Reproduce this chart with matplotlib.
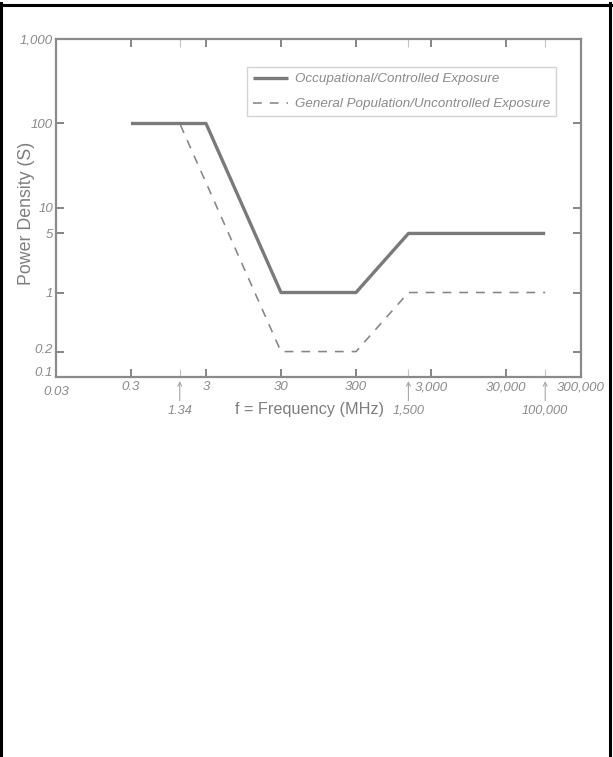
import matplotlib
matplotlib.use("Agg")
import matplotlib.pyplot as plt
from matplotlib.lines import Line2D
from matplotlib.transforms import ScaledTranslation

plt.rcParams['font.family'] = ['Liberation Sans', 'DejaVu Sans']

# ---- data ----
occ_freq = [0.3, 3, 30, 300, 1500, 100000]
occ_density = [100, 100, 1, 1, 5, 5]
gen_freq = [0.3, 1.34, 30, 300, 1500, 100000]
gen_density = [100, 100, 0.2, 0.2, 1, 1]

x_major = [0.03, 0.3, 3, 30, 300, 3000, 30000, 300000]
x_major_labels = ['0.03', '0.3', '3', '30', '300', '3,000', '30,000', '300,000']
x_marks = [1.34, 1500, 100000]
x_mark_labels = ['1.34', '1,500', '100,000']
y_major = [0.1, 0.2, 1, 5, 10, 100, 1000]
y_major_labels = ['0.1', '0.2', '1', '5', '10', '100', '1,000']

legend_labels = ['Occupational/Controlled Exposure',
                 'General Population/Uncontrolled Exposure']

W, H = 613, 757
fig = plt.figure(figsize=(W / 100, H / 100), dpi=100)
ax = fig.add_axes([56 / W, 1 - 377 / H, (581 - 56) / W, (377 - 39) / H])

dark = '#7c7c7c'
light = '#c4c4c4'
txt = '#8a8a8a'

ax.plot(occ_freq, occ_density, color='#7a7a7a', lw=2.4, solid_capstyle='butt',
        label=legend_labels[0], zorder=3)
ax.plot(gen_freq, gen_density, color='#858585', lw=1.15, dashes=(5.5, 5),
        label=legend_labels[1], zorder=2)

ax.set_xscale('log')
ax.set_yscale('log')
ax.set_xlim(0.03, 300000)
ax.set_ylim(0.1, 1000)

for s in ax.spines.values():
    s.set_color('#8a8a8a')
    s.set_linewidth(1.6)

ax.set_xticks(x_major)
ax.set_xticklabels(x_major_labels)
ax.set_xticks(x_marks, minor=True)
ax.set_xticklabels([''] * len(x_marks), minor=True)
ax.set_yticks(y_major)
ax.set_yticklabels(y_major_labels)
ax.yaxis.set_minor_locator(matplotlib.ticker.NullLocator())

ax.tick_params(axis='both', which='both', direction='in', length=6,
               top=True, right=True, labelcolor=txt, labelsize=9.5)
ax.tick_params(axis='x', which='major', width=1.3, color=dark, pad=3)
ax.tick_params(axis='x', which='minor', width=0.8, color=light, length=6)
ax.tick_params(axis='y', which='major', width=1.3, color=dark, pad=2)

for t in ax.xaxis.get_major_ticks() + ax.xaxis.get_minor_ticks():
    t.tick2line.set_color(light)
    t.tick2line.set_linewidth(0.8)
for t in ax.yaxis.get_major_ticks():
    t.tick2line.set_color(light)
    t.tick2line.set_linewidth(0.8)

for lab in ax.get_xticklabels() + ax.get_yticklabels():
    lab.set_fontstyle('italic')
# lower the 0.03 label a little, raise the 0.1 label a little
xl = ax.get_xticklabels()
xl[0].set_transform(xl[0].get_transform() + ScaledTranslation(0, -5 / 100, fig.dpi_scale_trans))
yl = ax.get_yticklabels()
yl[0].set_transform(yl[0].get_transform() + ScaledTranslation(0, 6 / 100, fig.dpi_scale_trans))
yl[1].set_transform(yl[1].get_transform() + ScaledTranslation(0, 3 / 100, fig.dpi_scale_trans))

# arrows marking the break frequencies
for xv, lab in zip(x_marks, x_mark_labels):
    ax.annotate('', xy=(xv, -0.012), xycoords=('data', 'axes fraction'),
                xytext=(xv, -0.07), textcoords=('data', 'axes fraction'),
                arrowprops=dict(arrowstyle='->', color='#a8a8a8', lw=0.8,
                                shrinkA=0, shrinkB=0, mutation_scale=7))
    ax.text(xv, -0.1, lab, transform=ax.get_xaxis_transform(), ha='center',
            va='center', fontsize=9.2, fontstyle='italic', color=txt)

ax.text(0.483, -0.095, 'f = Frequency (MHz)', transform=ax.transAxes,
        ha='center', va='center', fontsize=11.7, color='#7e7e7e')
ax.set_ylabel('Power Density (S)', fontsize=12.8, color='#7e7e7e')
ax.yaxis.set_label_coords(-0.04, 0.485)

leg = ax.legend(loc='upper left', bbox_to_anchor=(0.364, 0.917),
                borderaxespad=0, frameon=True, fancybox=False,
                fontsize=9.6, handlelength=2.6, handletextpad=0.55,
                labelspacing=0.95, borderpad=0.45)
leg.get_frame().set_edgecolor('#c8c8c8')
leg.get_frame().set_linewidth(1.0)
for t in leg.get_texts():
    t.set_color(txt)
    t.set_fontstyle('italic')

# outer black frame
fig.add_artist(Line2D([0.002, 0.002], [0.0, 0.996], transform=fig.transFigure,
                      color='black', lw=2.2))
fig.add_artist(Line2D([0.0, 0.996], [0.994, 0.994], transform=fig.transFigure,
                      color='black', lw=2.2))
fig.add_artist(Line2D([0.995, 0.995], [0.0, 0.996], transform=fig.transFigure,
                      color='black', lw=2.2))

fig.savefig('out.png', dpi=100)
